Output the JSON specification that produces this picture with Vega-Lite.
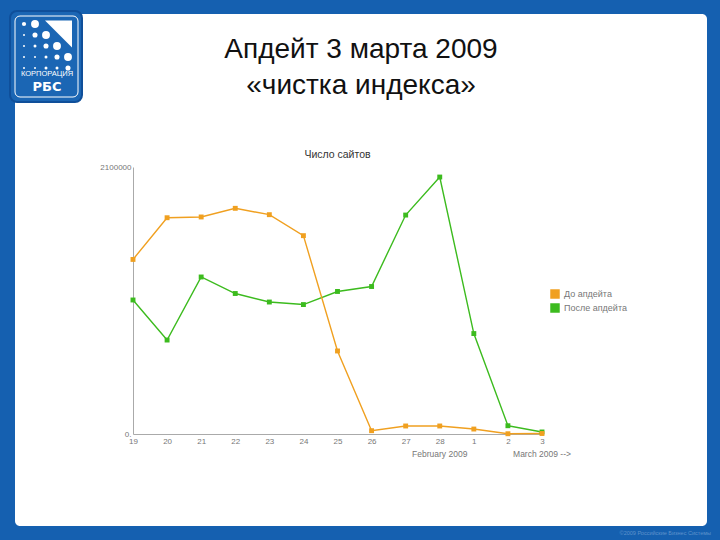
{
  "$schema": "https://vega.github.io/schema/vega-lite/v6.json",
  "description": "Slide: sites in the index before and after the 3 March 2009 update",
  "width": 692,
  "height": 512,
  "autosize": "none",
  "padding": {"left": 15, "right": 13, "top": 14, "bottom": 14},
  "background": "#1560b0",
  "view": {"fill": "#ffffff", "stroke": null, "cornerRadius": 5},
  "title": {
    "text": ["Апдейт 3 марта 2009", "«чистка индекса»"],
    "font": "Liberation Sans",
    "fontSize": 28,
    "fontWeight": "normal",
    "color": "#111111",
    "lineHeight": 36,
    "anchor": "middle",
    "frame": "group",
    "offset": -90
  },
  "resolve": {"scale": {"x": "independent", "y": "independent"}, "axis": {"x": "independent", "y": "independent"}},
  "layer": [
    {
      "layer": [
        {
          "data": {
            "values": [
              {"day": "19", "series": "После апдейта", "sites": 1054000},
              {"day": "20", "series": "После апдейта", "sites": 739000},
              {"day": "21", "series": "После апдейта", "sites": 1235000},
              {"day": "22", "series": "После апдейта", "sites": 1105000},
              {"day": "23", "series": "После апдейта", "sites": 1038000},
              {"day": "24", "series": "После апдейта", "sites": 1018000},
              {"day": "25", "series": "После апдейта", "sites": 1121000},
              {"day": "26", "series": "После апдейта", "sites": 1160000},
              {"day": "27", "series": "После апдейта", "sites": 1722000},
              {"day": "28", "series": "После апдейта", "sites": 2021000},
              {"day": "1", "series": "После апдейта", "sites": 790000},
              {"day": "2", "series": "После апдейта", "sites": 65000},
              {"day": "3", "series": "После апдейта", "sites": 16000},
              {"day": "19", "series": "До апдейта", "sites": 1373000},
              {"day": "20", "series": "До апдейта", "sites": 1701000},
              {"day": "21", "series": "До апдейта", "sites": 1707000},
              {"day": "22", "series": "До апдейта", "sites": 1775000},
              {"day": "23", "series": "До апдейта", "sites": 1725000},
              {"day": "24", "series": "До апдейта", "sites": 1560000},
              {"day": "25", "series": "До апдейта", "sites": 653000},
              {"day": "26", "series": "До апдейта", "sites": 26000},
              {"day": "27", "series": "До апдейта", "sites": 63000},
              {"day": "28", "series": "До апдейта", "sites": 63000},
              {"day": "1", "series": "До апдейта", "sites": 39000},
              {"day": "2", "series": "До апдейта", "sites": 2000},
              {"day": "3", "series": "До апдейта", "sites": 4000}
            ]
          },
          "encoding": {
            "x": {
              "field": "day",
              "type": "ordinal",
              "sort": ["19", "20", "21", "22", "23", "24", "25", "26", "27", "28", "1", "2", "3"],
              "title": null,
              "scale": {"type": "point", "padding": 0, "range": [118, 527]},
              "axis": {
                "offset": -92,
                "labelAngle": 0,
                "ticks": false,
                "grid": false,
                "domainColor": "#aaaaaa",
                "labelColor": "#777777",
                "labelFont": "Liberation Sans",
                "labelFontSize": 8,
                "labelPadding": 3
              }
            },
            "y": {
              "field": "sites",
              "type": "quantitative",
              "title": null,
              "scale": {"domain": [0, 2100000], "nice": false, "range": [420, 153]},
              "axis": {
                "offset": -118,
                "values": [0, 2100000],
                "labelExpr": "datum.value == 0 ? '0.' : '2100000'",
                "ticks": false,
                "grid": false,
                "domainColor": "#aaaaaa",
                "labelColor": "#777777",
                "labelFont": "Liberation Sans",
                "labelFontSize": 8,
                "labelPadding": 2
              }
            },
            "color": {
              "field": "series",
              "type": "nominal",
              "scale": {"domain": ["До апдейта", "После апдейта"], "range": ["#f0a020", "#3cbb1e"]},
              "legend": {
                "title": null,
                "orient": "none",
                "legendX": 535,
                "legendY": 275,
                "symbolType": "square",
                "symbolSize": 90,
                "symbolStrokeWidth": 0,
                "labelColor": "#777777",
                "labelFont": "Liberation Sans",
                "labelFontSize": 9,
                "rowPadding": 4
              }
            }
          },
          "layer": [
            {"mark": {"type": "line", "strokeWidth": 1.4}},
            {"mark": {"type": "point", "shape": "square", "filled": true, "size": 24, "opacity": 1}}
          ]
        },
        {
          "data": {
            "values": [
              {"day": "28", "sites": 0, "label": "February 2009"},
              {"day": "3", "sites": 0, "label": "March 2009 -->"}
            ]
          },
          "mark": {"type": "text", "dy": 20, "font": "Liberation Sans", "fontSize": 8.5, "color": "#777777"},
          "encoding": {
            "x": {"field": "day", "type": "ordinal", "sort": ["19", "20", "21", "22", "23", "24", "25", "26", "27", "28", "1", "2", "3"]},
            "y": {"field": "sites", "type": "quantitative"},
            "text": {"field": "label"}
          }
        },
        {
          "data": {"values": [{"day": "25", "sites": 2100000, "label": "Число сайтов"}]},
          "mark": {"type": "text", "dy": -12, "font": "Liberation Sans", "fontSize": 10.5, "color": "#333333"},
          "encoding": {
            "x": {"field": "day", "type": "ordinal", "sort": ["19", "20", "21", "22", "23", "24", "25", "26", "27", "28", "1", "2", "3"]},
            "y": {"field": "sites", "type": "quantitative"},
            "text": {"field": "label"}
          }
        }
      ]
    },
    {
      "layer": [
        {
          "data": {"values": [{"part": "logo"}]},
          "mark": {"type": "rect", "color": "#1b66b4", "stroke": "#0f4f9a", "strokeWidth": 2, "cornerRadius": 7},
          "encoding": {
            "x": {"datum": 10, "type": "quantitative", "axis": null, "scale": {"domain": [15, 707], "nice": false, "zero": false, "range": [0, 692]}},
            "x2": {"datum": 82},
            "y": {"datum": 11, "type": "quantitative", "axis": null, "scale": {"domain": [14, 526], "nice": false, "zero": false, "range": [0, 512]}},
            "y2": {"datum": 102}
          }
        },
        {
          "data": {"values": [{"part": "logo"}]},
          "mark": {"type": "rect", "fill": null, "stroke": "#ffffff", "strokeWidth": 1, "cornerRadius": 5},
          "encoding": {
            "x": {"datum": 15, "type": "quantitative"},
            "x2": {"datum": 78},
            "y": {"datum": 16, "type": "quantitative"},
            "y2": {"datum": 97}
          }
        },
        {
          "data": {"values": [{"part": "logo"}]},
          "mark": {"type": "point", "filled": true, "color": "#ffffff", "opacity": 1, "size": 729, "shape": "M -1 -1 L 1 -1 L 1 1 Z"},
          "encoding": {
            "x": {"datum": 58.5, "type": "quantitative"},
            "y": {"datum": 34, "type": "quantitative"}
          }
        },
        {
          "data": {
            "values": [
              {"col": 24, "row": 24, "level": 3}, {"col": 35, "row": 24, "level": 5},
              {"col": 24, "row": 35, "level": 1}, {"col": 35, "row": 35, "level": 4}, {"col": 46, "row": 35, "level": 5},
              {"col": 24, "row": 46, "level": 1}, {"col": 35, "row": 46, "level": 2}, {"col": 46, "row": 46, "level": 4}, {"col": 57, "row": 46, "level": 5},
              {"col": 24, "row": 57, "level": 1}, {"col": 35, "row": 57, "level": 1}, {"col": 46, "row": 57, "level": 2}, {"col": 57, "row": 57, "level": 4}, {"col": 68, "row": 57, "level": 5},
              {"col": 24, "row": 68, "level": 1}, {"col": 35, "row": 68, "level": 1}, {"col": 46, "row": 68, "level": 2}, {"col": 57, "row": 68, "level": 2}, {"col": 68, "row": 68, "level": 4}
            ]
          },
          "mark": {"type": "circle", "color": "#ffffff", "opacity": 1},
          "encoding": {
            "x": {"field": "col", "type": "quantitative"},
            "y": {"field": "row", "type": "quantitative"},
            "size": {"field": "level", "type": "quantitative", "legend": null, "scale": {"type": "linear", "zero": false, "domain": [1, 2, 3, 4, 5], "range": [4, 9, 18, 26, 62]}}
          }
        },
        {
          "data": {"values": [{"label": "КОРПОРАЦИЯ"}]},
          "mark": {"type": "text", "font": "Liberation Sans", "fontSize": 7.5, "color": "#ffffff"},
          "encoding": {
            "x": {"datum": 47, "type": "quantitative"},
            "y": {"datum": 74, "type": "quantitative"},
            "text": {"field": "label"}
          }
        },
        {
          "data": {"values": [{"label": "РБС"}]},
          "mark": {"type": "text", "font": "DejaVu Sans", "fontWeight": "bold", "fontSize": 13, "color": "#ffffff"},
          "encoding": {
            "x": {"datum": 47, "type": "quantitative"},
            "y": {"datum": 87, "type": "quantitative"},
            "text": {"field": "label"}
          }
        },
        {
          "data": {"values": [{"label": "©2009 Российские Бизнес Системы"}]},
          "mark": {"type": "text", "align": "right", "font": "Liberation Sans", "fontSize": 5.5, "color": "#5f93cc"},
          "encoding": {
            "x": {"datum": 711, "type": "quantitative"},
            "y": {"datum": 533, "type": "quantitative"},
            "text": {"field": "label"}
          }
        }
      ]
    }
  ]
}
